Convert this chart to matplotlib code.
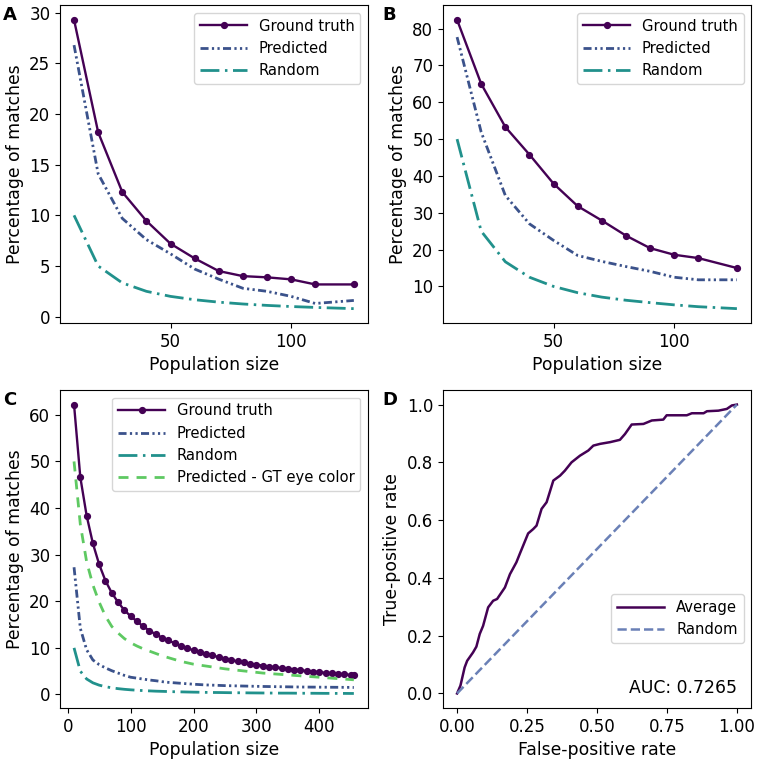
import numpy as np
import matplotlib
matplotlib.use("Agg")
import matplotlib.pyplot as plt
from matplotlib.ticker import MultipleLocator

# ---- data ----
pop_ab = [10, 20, 30, 40, 50, 60, 70, 80, 90, 100, 110, 126]

gt_a = [29.3, 18.2, 12.3, 9.45, 7.2, 5.75, 4.5, 4.0, 3.88, 3.68, 3.18, 3.18]
pred_a = [26.8, 14.1, 9.7, 7.6, 6.2, 4.7, 3.7, 2.8, 2.5, 2.0, 1.3, 1.6]
rand_a = [10.0, 5.0, 3.33, 2.5, 2.0, 1.67, 1.43, 1.25, 1.11, 1.0, 0.91, 0.79]

gt_b = [82.4, 65.0, 53.3, 45.8, 37.9, 31.8, 27.9, 23.8, 20.4, 18.6, 17.7, 15.0]
pred_b = [77.7, 51.9, 34.7, 27.0, 22.5, 18.4, 16.8, 15.4, 14.1, 12.5, 11.8, 11.8]
rand_b = [50.0, 25.0, 16.7, 12.5, 10.0, 8.3, 7.1, 6.25, 5.6, 5.0, 4.5, 3.97]

pop_c = [10, 20, 30, 40, 50, 60, 70, 80, 90, 100, 110, 120, 130, 140, 150,
         160, 170, 180, 190, 200, 210, 220, 230, 240, 250, 260, 270, 280,
         290, 300, 310, 320, 330, 340, 350, 360, 370, 380, 390, 400, 410,
         420, 430, 440, 450, 455]
gt_c = [62.2, 46.6, 38.4, 32.4, 27.9, 24.4, 21.8, 19.8, 18.1, 16.8, 15.7,
        14.6, 13.7, 12.9, 12.2, 11.6, 11.0, 10.4, 9.9, 9.5, 9.1, 8.7, 8.4,
        8.0, 7.7, 7.4, 7.1, 6.9, 6.6, 6.4, 6.2, 6.0, 5.8, 5.7, 5.5, 5.35,
        5.2, 5.05, 4.9, 4.8, 4.65, 4.55, 4.45, 4.3, 4.2, 4.15]
pred_c = [27.3, 14.2, 9.6, 7.4, 6.4, 5.7, 5.1, 4.6, 4.1, 3.7, 3.5, 3.3, 3.1,
          2.95, 2.75, 2.6, 2.5, 2.4, 2.3, 2.2, 2.12, 2.05, 2.0, 1.95, 1.9,
          1.87, 1.84, 1.81, 1.78, 1.75, 1.72, 1.7, 1.68, 1.66, 1.64, 1.62,
          1.6, 1.59, 1.58, 1.57, 1.56, 1.55, 1.54, 1.53, 1.52, 1.5]
rand_c = [10.0, 5.0, 3.33, 2.5, 2.0, 1.67, 1.43, 1.25, 1.11, 1.0, 0.91, 0.83,
          0.77, 0.71, 0.67, 0.63, 0.59, 0.56, 0.53, 0.5, 0.48, 0.45, 0.43,
          0.42, 0.4, 0.38, 0.37, 0.36, 0.34, 0.33, 0.32, 0.31, 0.3, 0.29,
          0.29, 0.28, 0.27, 0.26, 0.26, 0.25, 0.24, 0.24, 0.23, 0.23, 0.22,
          0.22]
eye_c = [50.0, 36.5, 28.5, 23.5, 19.8, 16.8, 14.6, 13.2, 12.0, 11.1, 10.4,
         9.8, 9.3, 8.8, 8.3, 7.9, 7.5, 7.1, 6.8, 6.5, 6.3, 6.1, 5.9, 5.7,
         5.5, 5.35, 5.2, 5.05, 4.9, 4.75, 4.6, 4.5, 4.4, 4.3, 4.2, 4.1, 4.0,
         3.9, 3.8, 3.7, 3.6, 3.5, 3.4, 3.3, 3.2, 3.15]

fpr = [0.0, 0.012, 0.027, 0.036, 0.057, 0.069, 0.081, 0.093, 0.111, 0.129,
       0.143, 0.171, 0.189, 0.212, 0.224, 0.254, 0.272, 0.284, 0.302, 0.320,
       0.344, 0.368, 0.385, 0.409, 0.439, 0.469, 0.487, 0.511, 0.547, 0.582,
       0.600, 0.624, 0.666, 0.696, 0.737, 0.749, 0.821, 0.839, 0.881, 0.893,
       0.934, 0.964, 0.982, 1.0]
tpr = [0.0, 0.027, 0.09, 0.113, 0.142, 0.162, 0.206, 0.234, 0.298, 0.321,
       0.327, 0.367, 0.413, 0.454, 0.483, 0.554, 0.569, 0.581, 0.639, 0.662,
       0.737, 0.754, 0.771, 0.800, 0.823, 0.841, 0.858, 0.864, 0.870, 0.878,
       0.898, 0.931, 0.933, 0.945, 0.948, 0.963, 0.963, 0.970, 0.970, 0.977,
       0.979, 0.985, 0.997, 1.0]
diag = [0.0, 1.0]
auc_text = "AUC: 0.7265"

# ---- styles ----
C_GT = "#440154"
C_PRED = "#3b528b"
C_RAND = "#21918c"
C_EYE = "#5ec962"
C_DIAG = "#6a80b6"

LW = 2.0
LS_PRED = (0, (2.9, 1.2, 0.8, 1.2, 0.8, 1.2))
LS_RAND = (0, (6.8, 2.0, 0.9, 2.0))
LS_EYE = (0, (3.6, 2.9))

TICK_FS = 12
LABEL_FS = 12.4
LEG_FS = 10.6

plt.rcParams["font.family"] = "DejaVu Sans"
plt.rcParams["xtick.labelsize"] = TICK_FS
plt.rcParams["ytick.labelsize"] = TICK_FS

fig = plt.figure(figsize=(7.6, 7.62), dpi=100)
ax_a = fig.add_axes([0.079, 0.576, 0.405, 0.417])
ax_b = fig.add_axes([0.583, 0.576, 0.405, 0.417])
ax_c = fig.add_axes([0.079, 0.071, 0.405, 0.417])
ax_d = fig.add_axes([0.583, 0.071, 0.405, 0.417])


def match_panel(ax, x, gt, pred, rand, eye=None):
    ax.plot(x, gt, color=C_GT, lw=1.7, marker="o", ms=4.2, label="Ground truth")
    ax.plot(x, pred, color=C_PRED, lw=LW, linestyle=LS_PRED, label="Predicted")
    ax.plot(x, rand, color=C_RAND, lw=LW, linestyle=LS_RAND, label="Random")
    if eye is not None:
        ax.plot(x, eye, color=C_EYE, lw=LW, linestyle=LS_EYE,
                label="Predicted - GT eye color")
    ax.set_xlabel("Population size", fontsize=LABEL_FS)
    ax.set_ylabel("Percentage of matches", fontsize=LABEL_FS)
    ax.legend(loc="upper right", fontsize=LEG_FS, handlelength=3.2)


match_panel(ax_a, pop_ab, gt_a, pred_a, rand_a)
ax_a.xaxis.set_major_locator(MultipleLocator(50))
ax_a.yaxis.set_major_locator(MultipleLocator(5))

match_panel(ax_b, pop_ab, gt_b, pred_b, rand_b)
ax_b.xaxis.set_major_locator(MultipleLocator(50))
ax_b.yaxis.set_major_locator(MultipleLocator(10))

match_panel(ax_c, pop_c, gt_c, pred_c, rand_c, eye_c)
ax_c.xaxis.set_major_locator(MultipleLocator(100))
ax_c.yaxis.set_major_locator(MultipleLocator(10))

# ROC panel
ax_d.plot(fpr, tpr, color=C_GT, lw=1.8, label="Average")
ax_d.plot(diag, diag, color=C_DIAG, lw=1.8, linestyle="--", label="Random")
ax_d.set_xlabel("False-positive rate", fontsize=LABEL_FS)
ax_d.set_ylabel("True-positive rate", fontsize=LABEL_FS)
ax_d.xaxis.set_major_locator(MultipleLocator(0.25))
ax_d.yaxis.set_major_locator(MultipleLocator(0.2))
ax_d.legend(loc="lower right", bbox_to_anchor=(1.0, 0.18), fontsize=LEG_FS,
            handlelength=3.2)
ax_d.text(0.955, 0.047, auc_text, transform=ax_d.transAxes, ha="right",
          va="baseline", fontsize=LABEL_FS)

# panel letters
for lbl, (px, py) in zip("ABCD", [(0.004, 0.992), (0.503, 0.992),
                                  (0.004, 0.487), (0.503, 0.487)]):
    fig.text(px, py, lbl, fontsize=13, fontweight="bold", ha="left", va="top")

fig.savefig("out.png", dpi=100)
